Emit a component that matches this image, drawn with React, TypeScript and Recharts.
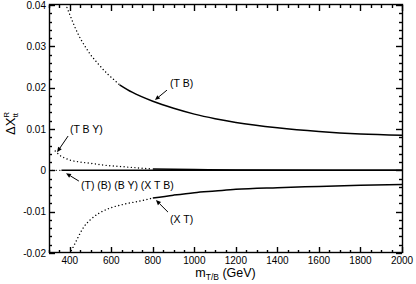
import React from 'react'
import { LineChart, Line, XAxis, YAxis, ReferenceLine, ReferenceDot, ReferenceArea } from 'recharts'

// x ticks (GeV)
const xTicks = [300, 350, 400, 450, 500, 550, 600, 650, 700, 750, 800, 850, 900, 950, 1000, 1050, 1100, 1150, 1200, 1250, 1300, 1350, 1400, 1450, 1500, 1550, 1600, 1650, 1700, 1750, 1800, 1850, 1900, 1950, 2000]
const xMajor = [400, 600, 800, 1000, 1200, 1400, 1600, 1800, 2000]
const yTicks = [-0.02, -0.018, -0.016, -0.014, -0.012, -0.01, -0.008, -0.006, -0.004, -0.002, 0, 0.002, 0.004, 0.006, 0.008, 0.01, 0.012, 0.014, 0.016, 0.018, 0.02, 0.022, 0.024, 0.026, 0.028, 0.03, 0.032, 0.034, 0.036, 0.038, 0.04]
const yMajor = [-0.02, -0.01, 0, 0.01, 0.02, 0.03, 0.04]

// (T B)
const tbDotM = [380, 400, 420, 440, 460, 480, 500, 540, 580, 620, 640]
const tbDotY = [0.0402, 0.0377, 0.0352, 0.033, 0.0311, 0.0295, 0.028, 0.0256, 0.0234, 0.0216, 0.0207]
const tbM = [640, 700, 800, 900, 1000, 1100, 1200, 1400, 1600, 1800, 2000]
const tbY = [0.0207, 0.0189, 0.0167, 0.015, 0.0136, 0.0125, 0.0116, 0.0103, 0.0094, 0.0088, 0.0085]

// (T B Y)
const tbyDotM = [330, 350, 375, 400, 450, 500, 575, 650, 725, 800]
const tbyDotY = [0.0047, 0.0037, 0.003, 0.0025, 0.002, 0.0017, 0.0012, 0.0009, 0.0006, 0.0003]
const tbyM = [800, 1000, 1200, 2000]
const tbyY = [0.0003, 0.0002, 0.0001, 0]

// (T) (B) (B Y) (X T B)
const zeroDotM = [300, 360]
const zeroDotY = [0, 0]
const zeroM = [360, 2000]
const zeroY = [0, 0]

// (X T)
const xtDotM = [400, 420, 440, 460, 480, 500, 540, 580, 660, 740, 800]
const xtDotY = [-0.0202, -0.0182, -0.0162, -0.0143, -0.0129, -0.0119, -0.0104, -0.0094, -0.0082, -0.0074, -0.0067]
const xtM = [800, 900, 1000, 1100, 1200, 1400, 1600, 1800, 2000]
const xtY = [-0.0067, -0.006, -0.0054, -0.005, -0.0046, -0.0042, -0.0039, -0.0036, -0.0034]

// labels and arrows (tail m, tail y, head m, head y)
const notes = [
  { m: 883, y: 0.0209, text: '(T B)' },
  { m: 401, y: 0.0098, text: '(T B Y)' },
  { m: 454, y: -0.0037, text: '(T) (B) (B Y) (X T B)' },
  { m: 883, y: -0.012, text: '(X T)' },
]
const arrows = [
  [868, 0.0194, 810, 0.017],
  [392, 0.0083, 339, 0.0044],
  [444, -0.0026, 382, -0.0007],
  [873, -0.0101, 815, -0.0072],
]

const FONT = "'Liberation Sans', Arial, Helvetica, sans-serif"
const INK = '#000'
const RULE = 1.4

const pts = (ms: number[], ys: number[]) => ms.map((m, i) => ({ m, y: ys[i] }))
const isMajor = (list: number[], v: number) => list.some((t) => Math.abs(t - v) < 1e-9)
const snap = (v: number) => Math.round(Number(v)) + 0.5

function BottomLabel(p: any) {
  const v = p.payload.value
  if (!isMajor(xMajor, v)) return <g />
  return (
    <text x={p.x} y={p.y + 11} textAnchor="middle" fontSize={10} fontFamily={FONT} fill={INK}>
      {v}
    </text>
  )
}

function LeftLabel(p: any) {
  const v = p.payload.value
  if (!isMajor(yMajor, v)) return <g />
  return (
    <text x={p.x - 3} y={p.y + 3.5} textAnchor="end" fontSize={10} fontFamily={FONT} fill={INK}>
      {Math.abs(v) < 1e-9 ? '0' : v.toFixed(2)}
    </text>
  )
}

// tick marks on top and bottom edges, pointing inward
function XMark(p: any) {
  const len = p.major ? 6 : 3
  const x = snap(p.x1)
  const top = Math.round(Math.min(Number(p.y1), Number(p.y2)))
  const bot = Math.round(Math.max(Number(p.y1), Number(p.y2)))
  return (
    <g stroke={INK} strokeWidth={RULE}>
      <line x1={x} y1={bot} x2={x} y2={bot - len} />
      <line x1={x} y1={top} x2={x} y2={top + len} />
    </g>
  )
}

// tick marks on left and right edges, pointing inward
function YMark(p: any) {
  const len = p.major ? 6 : 3
  const y = snap(p.y1)
  const l = Math.round(Math.min(Number(p.x1), Number(p.x2)))
  const r = Math.round(Math.max(Number(p.x1), Number(p.x2)))
  return (
    <g stroke={INK} strokeWidth={RULE}>
      <line x1={l} y1={y} x2={l + len} y2={y} />
      <line x1={r} y1={y} x2={r - len} y2={y} />
    </g>
  )
}

function Frame(p: any) {
  return (
    <rect x={snap(p.x)} y={snap(p.y) - 1} width={Math.round(p.width)} height={Math.round(p.height)} fill="none" stroke={INK} strokeWidth={RULE} />
  )
}

function Arrow(p: any) {
  const { x1, y1, x2, y2 } = p
  const a = Math.atan2(y2 - y1, x2 - x1)
  const L = 5
  const W = 2.2
  const bx = x2 - L * Math.cos(a)
  const by = y2 - L * Math.sin(a)
  const s = Math.sin(a)
  const c = Math.cos(a)
  return (
    <g>
      <line x1={x1} y1={y1} x2={bx} y2={by} stroke={INK} strokeWidth={1} />
      <polygon points={`${x2},${y2} ${bx + W * s},${by - W * c} ${bx - W * s},${by + W * c}`} fill={INK} />
    </g>
  )
}

function XLabel(p: any) {
  const vb = p.viewBox
  return (
    <text x={vb.x + vb.width / 2} y={vb.y + 24} textAnchor="middle" fontSize={12.5} fontFamily={FONT} fill={INK}>
      m
      <tspan fontSize={8.5} dy={3}>T/B</tspan>
      <tspan dy={-3}> (GeV)</tspan>
    </text>
  )
}

function YLabel(p: any) {
  const vb = p.viewBox
  return (
    <g transform={`translate(${vb.x + 15},${vb.y + 130}) rotate(-90)`}>
      <text x={0} y={0} fontSize={13} fontFamily={FONT} fill={INK}>
        ΔX
        <tspan fontSize={8} dy={-6}>R</tspan>
        <tspan fontSize={8} dx={-5.5} dy={9}>tt</tspan>
      </text>
    </g>
  )
}

const dotted = { stroke: INK, strokeWidth: 1.4, strokeDasharray: '0.01 3.6', strokeLinecap: 'round' as const }
const solid = { stroke: INK, strokeWidth: 1.5 }

export default function App() {
  return (
    <div style={{ position: 'absolute', left: 0, top: 0, background: '#fff' }}>
      <LineChart width={416} height={284} margin={{ top: 5, right: 14, bottom: 0, left: 0 }}>
        <XAxis
          dataKey="m"
          type="number"
          domain={[300, 2000]}
          allowDataOverflow
          ticks={xTicks}
          interval={0}
          height={31}
          tickSize={0}
          tickMargin={0}
          tickLine={false}
          tick={<BottomLabel />}
          axisLine={false}
          label={<XLabel />}
        />
        <YAxis
          type="number"
          domain={[-0.02, 0.04]}
          allowDataOverflow
          ticks={yTicks}
          interval={0}
          width={49}
          tickSize={0}
          tickMargin={0}
          tickLine={false}
          tick={<LeftLabel />}
          axisLine={false}
          label={<YLabel />}
        />

        <ReferenceArea x1={300} x2={2000} y1={-0.02} y2={0.04} shape={(p: any) => <Frame {...p} />} />
        {xTicks.map((t) => (
          <ReferenceLine key={'x' + t} x={t} shape={(p: any) => <XMark {...p} major={isMajor(xMajor, t)} />} />
        ))}
        {yTicks.map((t) => (
          <ReferenceLine key={'y' + t} y={t} shape={(p: any) => <YMark {...p} major={isMajor(yMajor, t)} />} />
        ))}

        <Line data={pts(tbDotM, tbDotY)} dataKey="y" type="monotone" dot={false} {...dotted} isAnimationActive={false} />
        <Line data={pts(tbM, tbY)} dataKey="y" type="monotone" dot={false} {...solid} isAnimationActive={false} />
        <Line data={pts(tbyDotM, tbyDotY)} dataKey="y" type="monotone" dot={false} {...dotted} isAnimationActive={false} />
        <Line data={pts(tbyM, tbyY)} dataKey="y" type="monotone" dot={false} {...solid} isAnimationActive={false} />
        <Line data={pts(zeroDotM, zeroDotY)} dataKey="y" type="linear" dot={false} {...dotted} isAnimationActive={false} />
        <Line data={pts(zeroM, zeroY)} dataKey="y" type="linear" dot={false} {...solid} isAnimationActive={false} />
        <Line data={pts(xtDotM, xtDotY)} dataKey="y" type="monotone" dot={false} {...dotted} isAnimationActive={false} />
        <Line data={pts(xtM, xtY)} dataKey="y" type="monotone" dot={false} {...solid} isAnimationActive={false} />

        {arrows.map((a, i) => (
          <ReferenceLine
            key={'a' + i}
            segment={[{ x: a[0], y: a[1] }, { x: a[2], y: a[3] }]}
            shape={(p: any) => <Arrow {...p} />}
          />
        ))}
        {notes.map((n) => (
          <ReferenceDot
            key={n.text}
            x={n.m}
            y={n.y}
            r={1}
            shape={(p: any) => (
              <text x={p.cx} y={p.cy + 3.5} fontSize={10.5} fontFamily={FONT} fill={INK}>
                {n.text}
              </text>
            )}
          />
        ))}
      </LineChart>
    </div>
  )
}
